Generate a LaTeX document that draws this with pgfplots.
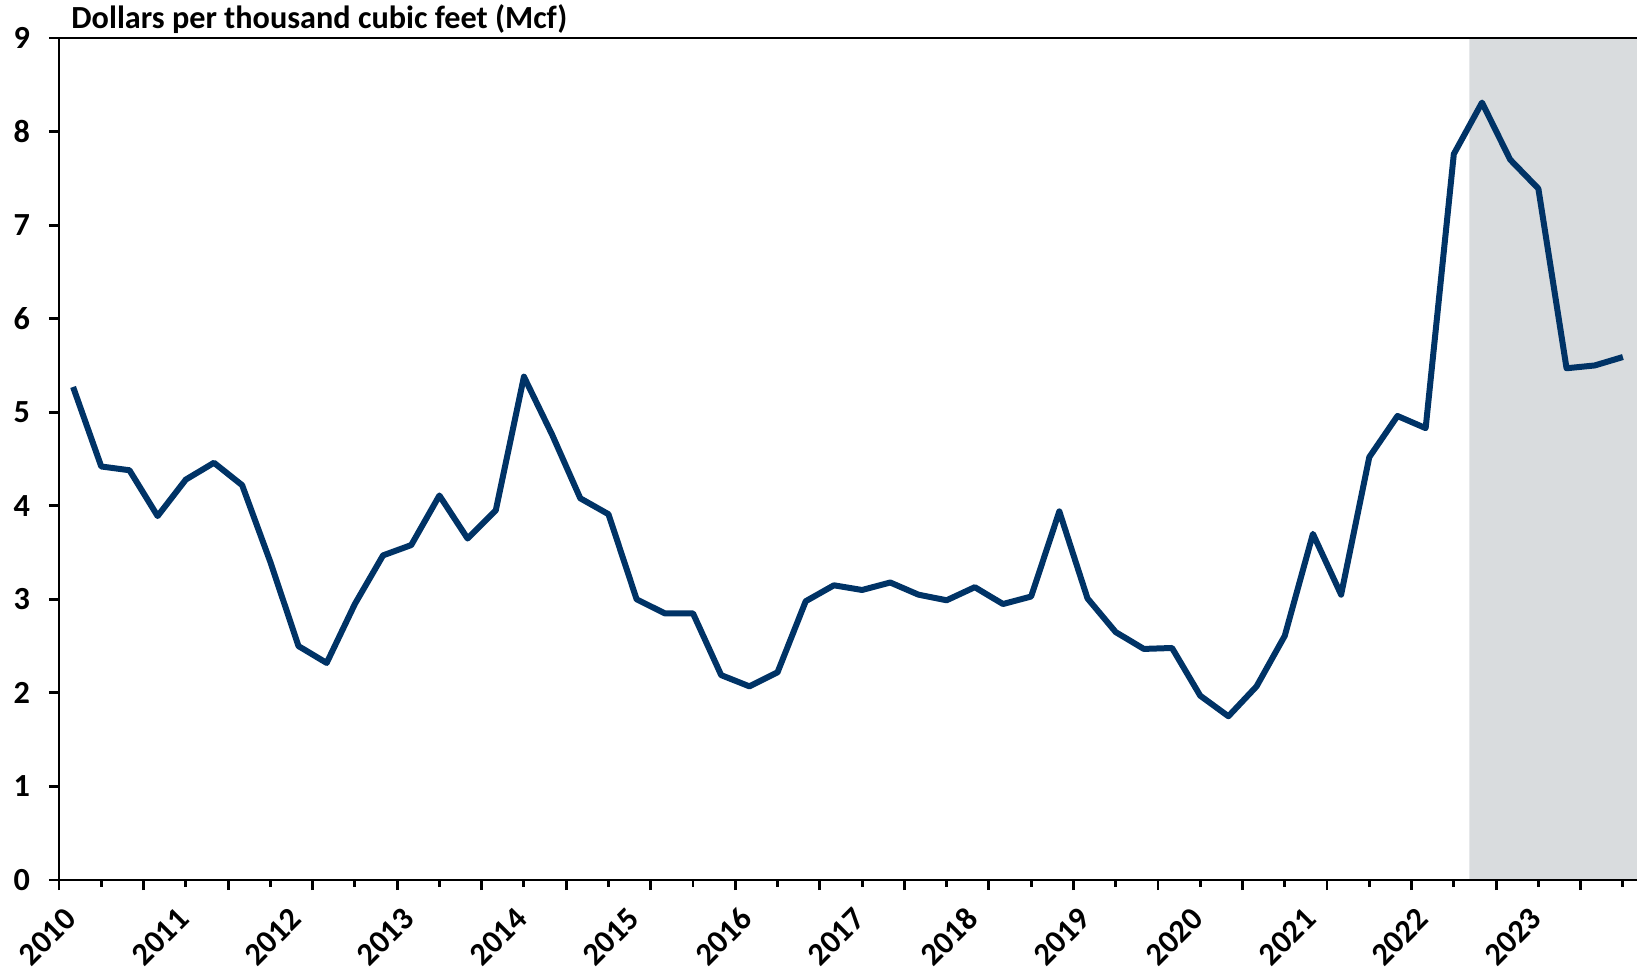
\documentclass[border=0pt]{standalone}
\usepackage{pgfplots}
\pgfplotsset{compat=1.18}
\usepackage{fontspec}
\setmainfont{Carlito}
\definecolor{navy}{RGB}{0,51,102}
\definecolor{band}{RGB}{217,220,222}
\pgfplotstableread{
x y
0.5 5.27
1.5 4.42
2.5 4.38
3.5 3.89
4.5 4.28
5.5 4.46
6.5 4.22
7.5 3.40
8.5 2.50
9.5 2.32
10.5 2.95
11.5 3.47
12.5 3.58
13.5 4.11
14.5 3.65
15.5 3.95
16.5 5.38
17.5 4.76
18.5 4.08
19.5 3.91
20.5 3.00
21.5 2.85
22.5 2.85
23.5 2.19
24.5 2.07
25.5 2.22
26.5 2.98
27.5 3.15
28.5 3.10
29.5 3.18
30.5 3.05
31.5 2.99
32.5 3.13
33.5 2.95
34.5 3.03
35.5 3.94
36.5 3.01
37.5 2.65
38.5 2.47
39.5 2.48
40.5 1.97
41.5 1.75
42.5 2.07
43.5 2.61
44.5 3.70
45.5 3.05
46.5 4.52
47.5 4.96
48.5 4.83
49.5 7.76
50.5 8.31
51.5 7.70
52.5 7.39
53.5 5.47
54.5 5.50
55.5 5.59
}\prices
\begin{document}
\begin{tikzpicture}
\useasboundingbox (-26.55pt,-40.95pt) rectangle (710.1pt,396pt);
\begin{axis}[
  at={(0,0)}, anchor=south west,
  scale only axis, width=710.1pt, height=378.9pt,
  xmin=0, xmax=56, ymin=0, ymax=9,
  axis line style={draw=none},
  clip=false,
  xtick pos=bottom, ytick pos=left,
  ytick={0,...,9},
  xtick={0,3,...,54},
  xticklabels={},
  minor xtick={1.5,4.5,...,55.5},
  tick align=outside,
  major tick length=4.5pt,
  minor tick length=3pt,
  tick style={black, line width=1.3pt},
  minor tick style={black, line width=1.3pt},
  ytick style={black, line width=1.3pt},
  /pgf/number format/assume math mode=true,
  ticklabel style={font=\fontsize{14.5}{16}\selectfont\bfseries},
  yticklabel style={xshift=-5pt},
  extra x ticks={0.5,4.5,...,52.5},
  extra x tick labels={2010,2011,2012,2013,2014,2015,2016,2017,2018,2019,2020,2021,2022,2023},
  extra x tick style={major tick length=0pt, tick label style={xshift=-1pt, yshift=-15pt, rotate=45, anchor=east, inner sep=0pt}},
]
\addplot[fill=band, draw=none] coordinates {(50.05,0) (50.05,9) (56,9) (56,0)} \closedcycle;
\addplot[navy, line width=2.7pt, line join=round] table[x=x,y=y] {\prices};
\draw[black, line width=1.3pt] (rel axis cs:0,1) -- (rel axis cs:0,0) -- (rel axis cs:1,0);
\draw[black, line width=1.3pt] (rel axis cs:0,1) -- (rel axis cs:1,1);
\node[anchor=base west, inner sep=0pt, font=\fontsize{14.5}{16}\selectfont\bfseries] at ([xshift=5.4pt, yshift=4.5pt]rel axis cs:0,1) {Dollars per thousand cubic feet (Mcf)};
\end{axis}
\end{tikzpicture}
\end{document}
